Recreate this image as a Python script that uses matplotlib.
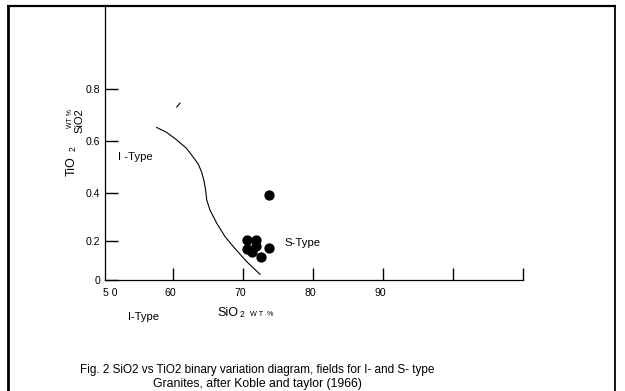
import numpy as np
import matplotlib
matplotlib.use("Agg")
import matplotlib.pyplot as plt
from matplotlib.lines import Line2D
from matplotlib.transforms import ScaledTranslation

plt.rcParams['font.family'] = ['Liberation Sans', 'DejaVu Sans']

# ---- data ----
sample_sio2 = [73.7, 70.5, 71.8, 70.5, 71.2, 71.8, 73.7, 72.5]
sample_tio2 = [0.39, 0.204, 0.204, 0.159, 0.144, 0.174, 0.164, 0.118]

boundary_sio2 = [57.63, 59.06, 60.49, 61.91, 62.86, 63.57, 64.06, 64.39, 64.63, 64.77,
                 65.24, 66.2, 67.39, 68.57, 70.49, 72.39]
boundary_tio2 = [0.652, 0.633, 0.604, 0.571, 0.537, 0.511, 0.479, 0.446, 0.408, 0.371,
                 0.329, 0.274, 0.218, 0.171, 0.094, 0.029]

stroke_sio2 = [60.49, 60.96]
stroke_tio2 = [0.731, 0.746]

x_ticks = [60, 70, 80, 90, 100, 110]
x_tick_labels = ['60', '70', '80', '90', '', '']
y_ticks = [0, 0.2, 0.4, 0.6, 0.8]
y_tick_labels = ['0', '0.2', '0.4', '0.6', '0.8']

# hand-drawn (non-uniform) y axis of the original figure
Y_VALS = np.array([0, 0.2, 0.4, 0.6, 0.8])
Y_DRAWN = np.array([0, 39, 87, 139, 191], dtype=float)


def y_fwd(y):
    y = np.asarray(y, dtype=float)
    out = np.interp(y, Y_VALS, Y_DRAWN)
    out = np.where(y > 0.8, 191 + (y - 0.8) * 260, out)
    out = np.where(y < 0, y * 195, out)
    return out


def y_inv(h):
    h = np.asarray(h, dtype=float)
    out = np.interp(h, Y_DRAWN, Y_VALS)
    out = np.where(h > 191, 0.8 + (h - 191) / 260, out)
    out = np.where(h < 0, h / 195, out)
    return out


W, H = 625, 391
fig = plt.figure(figsize=(W / 100, H / 100), dpi=100)


def fx(px):
    return px / W


def fy(py):
    return 1 - py / H


ax_left, ax_right, ax_bottom, ax_top = 105, 523.3, 280, 5
ax = fig.add_axes([fx(ax_left), fy(ax_bottom), fx(ax_right - ax_left), (ax_bottom - ax_top) / H])
ax.set_yscale('function', functions=(y_fwd, y_inv))
ax.set_xlim(50.24, 110)
ax.set_ylim(0, 1.123)

ax.plot(boundary_sio2, boundary_tio2, color='black', lw=0.8, solid_joinstyle='round')
ax.plot(stroke_sio2, stroke_tio2, color='black', lw=0.8)
ax.plot(sample_sio2, sample_tio2, 'o', color='black', ms=6.4, mec='black')

for s in ['top', 'right']:
    ax.spines[s].set_visible(False)
for s in ['left', 'bottom']:
    ax.spines[s].set_linewidth(0.9)
    ax.spines[s].set_color('black')

ax.set_xticks(x_ticks)
ax.set_xticklabels(x_tick_labels)
ax.set_yticks(y_ticks)
ax.set_yticklabels(y_tick_labels)
ax.minorticks_off()
ax.tick_params(axis='x', direction='in', length=8.6, width=1.0, pad=6.0, labelsize=7.6)
ax.tick_params(axis='y', direction='in', length=9.4, width=1.0, pad=3.6, labelsize=7.6)
shift = ScaledTranslation(-3 / 100, 0, fig.dpi_scale_trans)
for lbl in ax.get_xticklabels():
    lbl.set_transform(lbl.get_transform() + shift)

# ---- annotations (pixel positions) ----
fig.text(fx(110), fy(292.7), '5 0', ha='center', va='center', fontsize=7.6)
fig.text(fx(118), fy(157), 'I -Type', ha='left', va='center', fontsize=8.2)
fig.text(fx(284), fy(243), 'S-Type', ha='left', va='center', fontsize=8.2)
fig.text(fx(128), fy(317), 'I-Type', ha='left', va='center', fontsize=8.0)
fig.text(fx(217), fy(313), 'SiO', ha='left', va='center', fontsize=9.0)
fig.text(fx(239.5), fy(314.5), '2', ha='left', va='center', fontsize=6.2)
fig.text(fx(250), fy(314), 'W T  %', ha='left', va='center', fontsize=5.2)

# y-axis label cluster
fig.text(fx(71.5), fy(166.5), 'TiO', rotation=90, ha='center', va='center', fontsize=9.0)
fig.text(fx(73.5), fy(149), '2', rotation=90, ha='center', va='center', fontsize=6.2)
fig.text(fx(71), fy(118), 'WT %', rotation=90, ha='center', va='center', fontsize=5.0)
fig.text(fx(79.5), fy(121), 'SiO2', rotation=90, ha='center', va='center', fontsize=8.0)

fig.text(fx(257), fy(369.5), 'Fig. 2 SiO2 vs TiO2 binary variation diagram, fields for I- and S- type',
         ha='center', va='center', fontsize=8.5)
fig.text(fx(257), fy(384.5), 'Granites, after Koble and taylor (1966)',
         ha='center', va='center', fontsize=8.8)

# outer frame
frame_kw = dict(color='black', transform=fig.transFigure, solid_capstyle='butt')
fig.add_artist(Line2D([fx(7.5), fx(7.5)], [fy(4.5), fy(H)], lw=2.0, **frame_kw))
fig.add_artist(Line2D([fx(6.5), fx(615.8)], [fy(5.5), fy(5.5)], lw=1.6, **frame_kw))
fig.add_artist(Line2D([fx(615), fx(615)], [fy(4.5), fy(H)], lw=1.3, **frame_kw))

fig.savefig('out.png', dpi=100)
